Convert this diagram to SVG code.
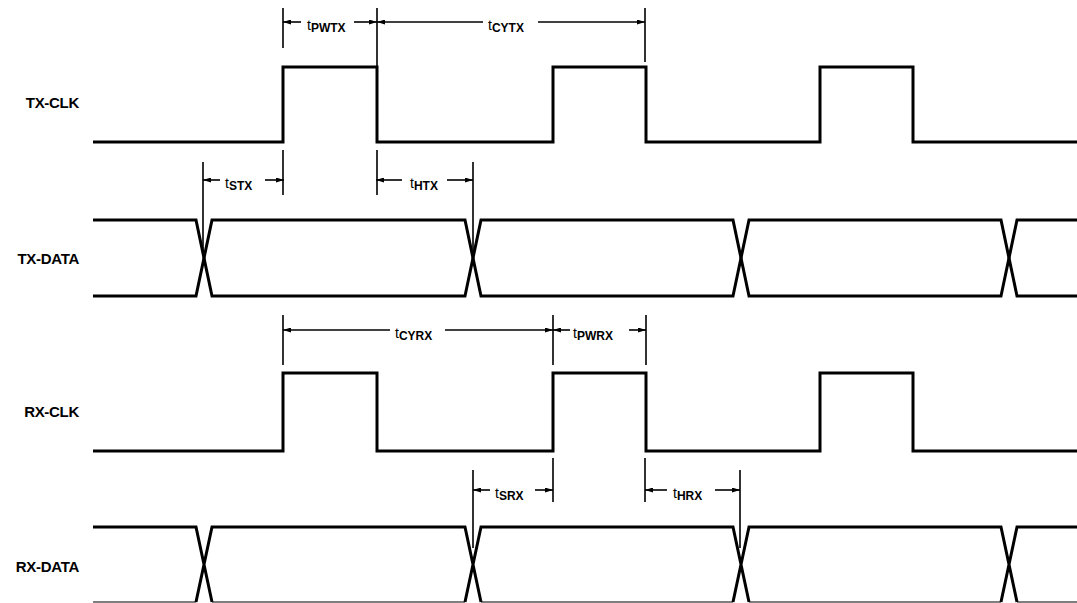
<svg xmlns="http://www.w3.org/2000/svg" width="1077" height="603" viewBox="0 0 1077 603">
<style>
.sig{fill:none;stroke:#000;stroke-width:3;stroke-linejoin:miter}
.sigb{fill:none;stroke:#555;stroke-width:1.5}
.ext{fill:none;stroke:#000;stroke-width:1.6}
.dim{fill:none;stroke:#000;stroke-width:1.6}
.lbl{font-family:"Liberation Sans",Arial,sans-serif;font-weight:bold;font-size:15px;fill:#000;text-anchor:end;letter-spacing:-0.3px}
.t{font-family:"Liberation Sans",Arial,sans-serif;font-size:14px;fill:#000}
.sub{font-size:12px;font-weight:bold}
</style>
<defs>
<marker id="arr" viewBox="0 0 8 5" refX="8" refY="2.5" markerWidth="8" markerHeight="5" markerUnits="userSpaceOnUse" orient="auto-start-reverse" preserveAspectRatio="none">
<path d="M0,0 L8,2.5 L0,5 z" fill="#000"/>
</marker>
</defs>
<rect width="1077" height="603" fill="#fff"/>

<g id="tx-clk">
<text class="lbl" x="79" y="108">TX-CLK</text>
<path class="sig" d="M93,142 H283 V67 H377 V142 H553 V67 H646 V142 H820 V67 H913 V142 H1077"/>
</g>

<g id="tx-data">
<text class="lbl" x="79" y="264">TX-DATA</text>
<path class="sig" d="M93,220 H196 L212,296 H465 L481,220 H733 L749,296 H1001 L1017,220 H1077"/>
<path class="sig" d="M93,296 H196 L212,220 H465 L481,296 H733 L749,220 H1001 L1017,296 H1077"/>
</g>

<g id="rx-clk">
<text class="lbl" x="79" y="417">RX-CLK</text>
<path class="sig" d="M93,451 H283 V373 H377 V451 H553 V373 H646 V451 H820 V373 H913 V451 H1077"/>
</g>

<g id="rx-data">
<text class="lbl" x="79" y="572">RX-DATA</text>
<path class="sigb" d="M93,602 H196 M212,602 H465 M481,602 H733 M749,602 H1001 M1017,602 H1077"/>
<path class="sig" d="M93,527 H196 L212,602 M196,602 L212,527 H465 L481,602 M465,602 L481,527 H733 L749,602 M733,602 L749,527 H1001 L1017,602 M1001,602 L1017,527 H1077"/>
</g>

<g id="connectors">
<g id="extensions" class="ext">
<path d="M283,8 V48 M283,150 V195 M377,8 V66 M377,150 V195 M645,8 V62"/>
<path d="M203,162 V253 M473,162 V253"/>
<path d="M283,315 V365 M553,315 V365 M646,315 V365"/>
<path d="M553,458 V502 M645,458 V502 M473,470 V548 M740,470 V548"/>
</g>
<g id="dims" class="dim">
<path marker-start="url(#arr)" d="M283,22 H301"/>
<path marker-start="url(#arr)" d="M377,22 H354"/>
<path marker-start="url(#arr)" d="M377,22 H483"/>
<path marker-start="url(#arr)" d="M645,22 H538"/>
<path marker-start="url(#arr)" d="M203,180 H220"/>
<path marker-start="url(#arr)" d="M284,180 H265"/>
<path marker-start="url(#arr)" d="M376,180 H402"/>
<path marker-start="url(#arr)" d="M473,180 H447"/>
<path marker-start="url(#arr)" d="M283,330 H390"/>
<path marker-start="url(#arr)" d="M553,330 H445"/>
<path marker-start="url(#arr)" d="M553,330 H570"/>
<path marker-start="url(#arr)" d="M646,330 H629"/>
<path marker-start="url(#arr)" d="M473,490 H490"/>
<path marker-start="url(#arr)" d="M553,490 H535"/>
<path marker-start="url(#arr)" d="M645,490 H667"/>
<path marker-start="url(#arr)" d="M740,490 H715"/>
</g>
<g id="dim-labels">
<text class="t" x="307" y="30">t<tspan class="sub" dy="2">PWTX</tspan></text>
<text class="t" x="488" y="30">t<tspan class="sub" dy="2">CYTX</tspan></text>
<text class="t" x="225" y="188">t<tspan class="sub" dy="2">STX</tspan></text>
<text class="t" x="410" y="188">t<tspan class="sub" dy="2">HTX</tspan></text>
<text class="t" x="395" y="338">t<tspan class="sub" dy="2">CYRX</tspan></text>
<text class="t" x="573" y="338">t<tspan class="sub" dy="2">PWRX</tspan></text>
<text class="t" x="495" y="498">t<tspan class="sub" dy="2">SRX</tspan></text>
<text class="t" x="673" y="498">t<tspan class="sub" dy="2">HRX</tspan></text>
</g>
</g>
</svg>
